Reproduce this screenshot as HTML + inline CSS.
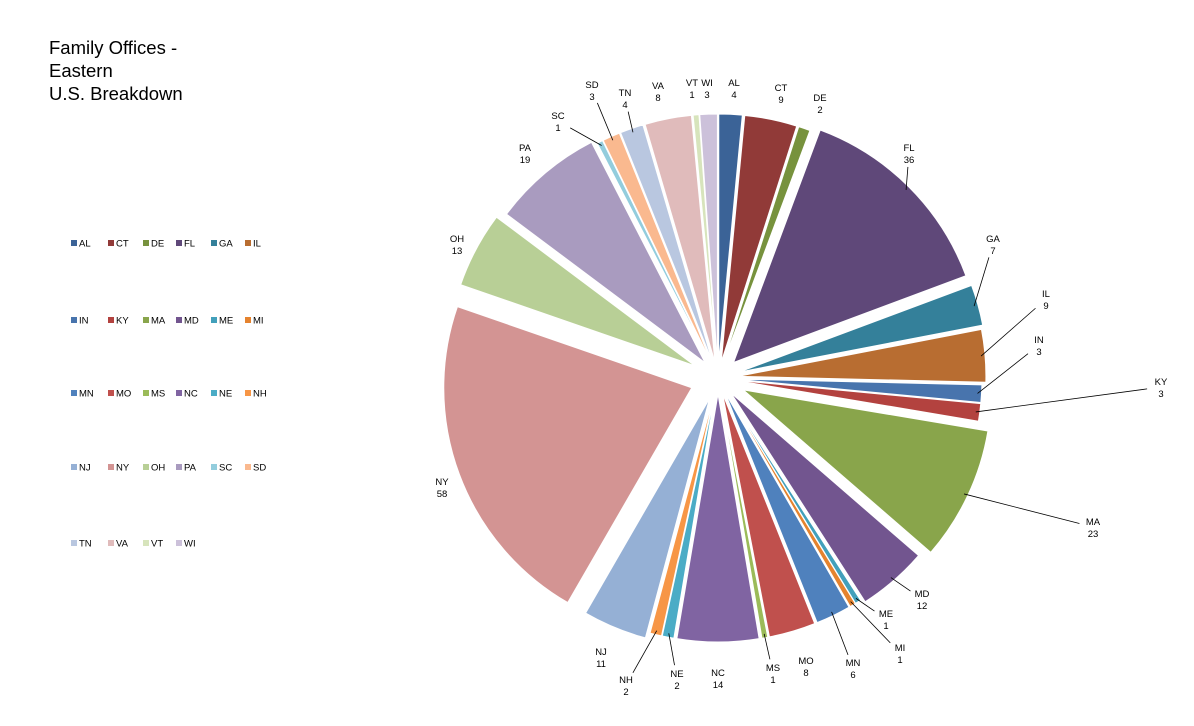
<!DOCTYPE html>
<html><head><meta charset="utf-8"><style>
body{margin:0;background:#fff;width:1194px;height:726px;overflow:hidden;font-family:"Liberation Sans",sans-serif}
.t{position:absolute;left:49px;top:36px;font-size:18.5px;line-height:23px;color:#000}
</style></head><body>
<div class="t">Family Offices -<br>Eastern<br>U.S. Breakdown</div>
<svg id="s" width="1194" height="726" style="position:absolute;left:0;top:0"></svg>
<script>
var d=[["AL",4,"#3b6397",734,82],["CT",9,"#913a38",781,87],["DE",2,"#77923d",820,97],["FL",36,"#5f4879",909,147],["GA",7,"#34809a",993,238],["IL",9,"#b86d31",1046,293],["IN",3,"#4874ad",1039,339],["KY",3,"#b3423f",1161,381],["MA",23,"#89a54b",1093,521],["MD",12,"#72558f",922,593],["ME",1,"#42a0bb",886,613],["MI",1,"#e5832e",900,647],["MN",6,"#4f81bd",853,662],["MO",8,"#c0504d",806,660],["MS",1,"#9bbb59",773,667],["NC",14,"#8064a2",718,672],["NE",2,"#4bacc6",677,673],["NH",2,"#f79646",626,679],["NJ",11,"#95b0d5",601,651],["NY",58,"#d39493",442,481],["OH",13,"#b8cf96",457,238],["PA",19,"#a99bbf",525,147],["SC",1,"#93cddd",558,115],["SD",3,"#fab98f",592,84],["TN",4,"#b9c7e0",625,92],["VA",8,"#e0bbbb",658,85],["VT",1,"#d7e4bc",692,82],["WI",3,"#ccc1da",707,82]];
var ex={NY:28,MA:28,FL:22,OH:26,NJ:22,PA:20,MD:20,GA:22,IL:20};
var lead={FL:1,GA:1,IL:1,IN:1,KY:1,MA:1,MD:1,ME:1,MI:1,MN:1,MS:1,NE:1,NH:1,SC:1,TN:1,SD:1,NJ:0};
var cx=718,cy=378,R=248,tot=264,a=0,h='';
function P(r,t,ox,oy){return [ox+r*Math.sin(t),oy-r*Math.cos(t)];}
d.forEach(function(s){var a0=a/tot*2*Math.PI,a1=(a+s[1])/tot*2*Math.PI;a+=s[1];var m=(a0+a1)/2,e=ex[s[0]]||16;
var ox=cx+e*Math.sin(m),oy=cy-e*Math.cos(m);var p0=P(R,a0,ox,oy),p1=P(R,a1,ox,oy);
h+='<path d="M'+ox+','+oy+'L'+p0+'A'+R+','+R+' 0 '+(a1-a0>Math.PI?1:0)+' 1 '+p1+'Z" fill="'+s[2]+'" stroke="#fff" stroke-width="1"/>';
if(lead[s[0]]){var q=P(R-4,m,ox,oy),lx=s[3],ly=s[4]+6,dx=q[0]-lx,dy=q[1]-ly,L=Math.hypot(dx,dy);
if(L>22){var st=[lx+dx/L*14,ly+dy/L*14];h+='<polyline points="'+st+' '+q+'" fill="none" stroke="#000" stroke-width="0.8"/>';}}
h+='<text x="'+s[3]+'" y="'+(s[4]+4)+'" font-size="9.5" text-anchor="middle">'+s[0]+'</text><text x="'+s[3]+'" y="'+(s[4]+16)+'" font-size="9.5" text-anchor="middle">'+s[1]+'</text>';});
h+='<circle cx="'+cx+'" cy="'+cy+'" r="14" fill="#fff"/>';
var cols=[71,108,143,176,211,245],rows=[243,320,393,467,543];
d.forEach(function(s,i){var x=cols[i%6],y=rows[Math.floor(i/6)];h+='<rect x="'+x+'" y="'+(y-3)+'" width="6" height="6" fill="'+s[2]+'"/><text x="'+(x+8)+'" y="'+(y+3.5)+'" font-size="9.5">'+s[0]+'</text>';});
document.getElementById('s').innerHTML=h;
</script>
</body></html>
